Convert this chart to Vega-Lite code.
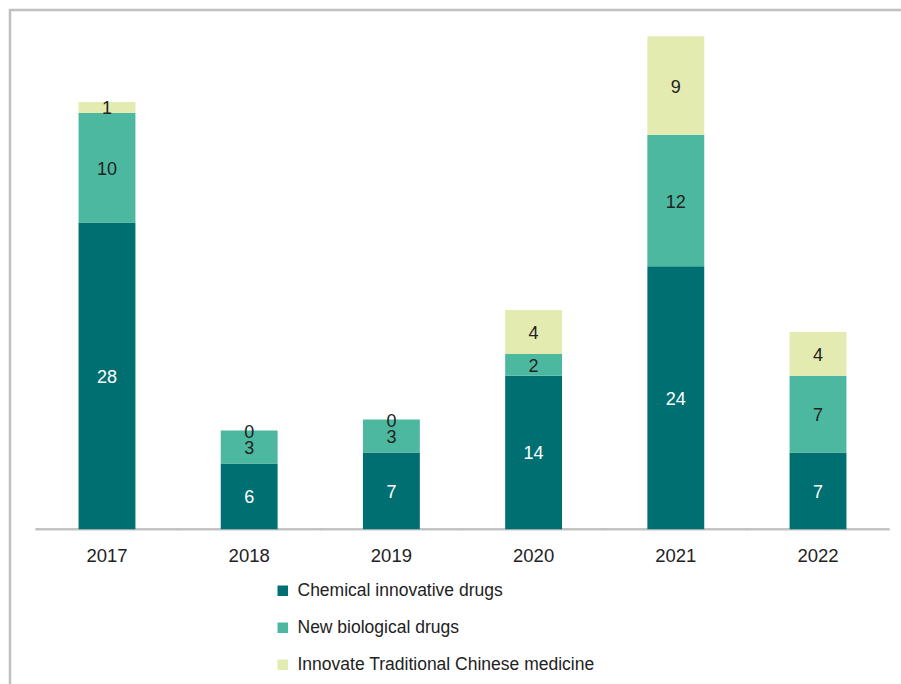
{
  "$schema": "https://vega.github.io/schema/vega-lite/v6.json",
  "autosize": {"type": "none"},
  "padding": {"left": 10, "top": 10, "right": -14, "bottom": -16},
  "width": 905,
  "height": 690,
  "background": "white",
  "config": {
    "view": {"stroke": "#c0c0c0", "strokeWidth": 2.5},
    "font": "Liberation Sans"
  },
  "data": {
    "values": [
      {"year": "2017", "type": "Chemical innovative drugs", "value": 28, "k": 1},
      {"year": "2017", "type": "New biological drugs", "value": 10, "k": 2},
      {"year": "2017", "type": "Innovate Traditional Chinese medicine", "value": 1, "k": 3},
      {"year": "2018", "type": "Chemical innovative drugs", "value": 6, "k": 1},
      {"year": "2018", "type": "New biological drugs", "value": 3, "k": 2},
      {"year": "2018", "type": "Innovate Traditional Chinese medicine", "value": 0, "k": 3},
      {"year": "2019", "type": "Chemical innovative drugs", "value": 7, "k": 1},
      {"year": "2019", "type": "New biological drugs", "value": 3, "k": 2},
      {"year": "2019", "type": "Innovate Traditional Chinese medicine", "value": 0, "k": 3},
      {"year": "2020", "type": "Chemical innovative drugs", "value": 14, "k": 1},
      {"year": "2020", "type": "New biological drugs", "value": 2, "k": 2},
      {"year": "2020", "type": "Innovate Traditional Chinese medicine", "value": 4, "k": 3},
      {"year": "2021", "type": "Chemical innovative drugs", "value": 24, "k": 1},
      {"year": "2021", "type": "New biological drugs", "value": 12, "k": 2},
      {"year": "2021", "type": "Innovate Traditional Chinese medicine", "value": 9, "k": 3},
      {"year": "2022", "type": "Chemical innovative drugs", "value": 7, "k": 1},
      {"year": "2022", "type": "New biological drugs", "value": 7, "k": 2},
      {"year": "2022", "type": "Innovate Traditional Chinese medicine", "value": 4, "k": 3}
    ]
  },
  "encoding": {
    "x": {
      "field": "year",
      "type": "nominal",
      "scale": {"paddingInner": 0.6, "paddingOuter": 0.482},
      "axis": {
        "title": null,
        "orient": "bottom",
        "offset": -171,
        "domain": false,
        "ticks": false,
        "labelAngle": 0,
        "labelFontSize": 18.5,
        "labelColor": "#222222",
        "labelPadding": 17
      }
    }
  },
  "layer": [
    {
      "mark": {"type": "tick", "size": 143, "thickness": 2, "color": "#bfbfbf", "orient": "horizontal"},
      "encoding": {
        "y": {"datum": 0, "type": "quantitative", "scale": {"domain": [-15.6, 47.4], "nice": false, "zero": false}, "axis": null}
      }
    },
    {
      "mark": {"type": "bar"},
      "encoding": {
        "y": {"field": "value", "type": "quantitative", "stack": "zero", "axis": null},
        "color": {
          "field": "type",
          "type": "nominal",
          "sort": ["Chemical innovative drugs", "New biological drugs", "Innovate Traditional Chinese medicine"],
          "scale": {
            "domain": ["Chemical innovative drugs", "New biological drugs", "Innovate Traditional Chinese medicine"],
            "range": ["#006f72", "#4db8a0", "#e4ebb0"]
          },
          "legend": {
            "title": null,
            "orient": "none",
            "legendX": 264,
            "legendY": 572,
            "symbolType": "square",
            "symbolSize": 110,
            "symbolStrokeWidth": 0,
            "labelFontSize": 17.5,
            "labelColor": "#222222",
            "labelOffset": 6,
            "rowPadding": 18,
            "labelLimit": 500
          }
        },
        "order": {"field": "k", "type": "quantitative"}
      }
    },
    {
      "mark": {"type": "text", "fontSize": 18, "dy": 2},
      "encoding": {
        "y": {"field": "value", "type": "quantitative", "stack": "zero", "bandPosition": 0.5},
        "detail": {"field": "type", "type": "nominal"},
        "order": {"field": "k", "type": "quantitative"},
        "text": {"field": "value", "type": "quantitative"},
        "color": {
          "condition": {"test": "datum.k === 1", "value": "white"},
          "value": "#222222"
        }
      }
    }
  ],
  "resolve": {"scale": {"color": "independent"}}
}
